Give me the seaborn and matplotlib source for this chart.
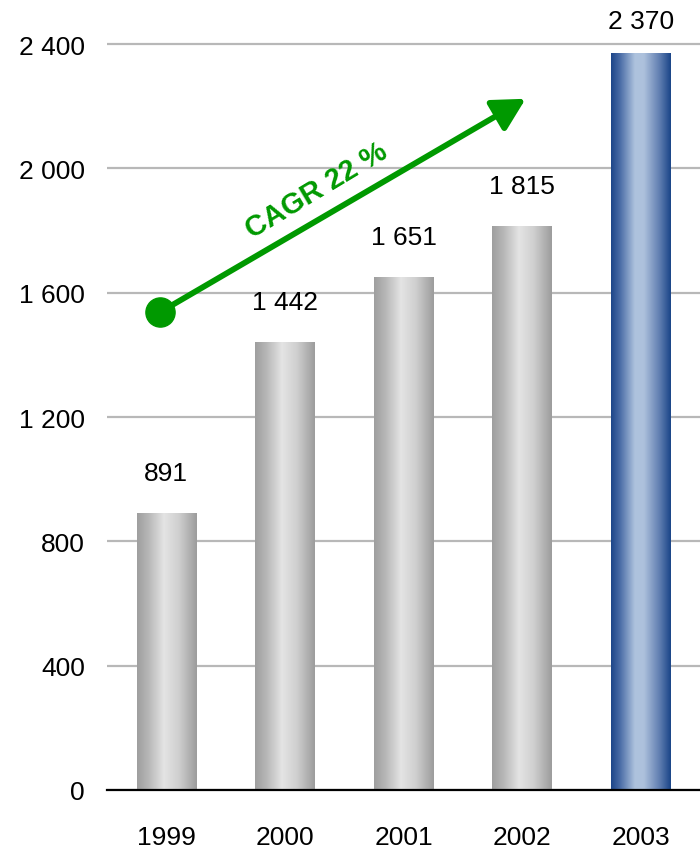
import numpy as np
import pandas as pd
import matplotlib
matplotlib.use("Agg")
import matplotlib.pyplot as plt
import seaborn as sns
from matplotlib.colors import LinearSegmentedColormap

years = ["1999", "2000", "2001", "2002", "2003"]
values = [891, 1442, 1651, 1815, 2370]
value_labels = ["891", "1 442", "1 651", "1 815", "2 370"]
yticks = [0, 400, 800, 1200, 1600, 2000, 2400]
ytick_labels = ["0", "400", "800", "1 200", "1 600", "2 000", "2 400"]
cagr_text = "CAGR 22 %"

sns.set_theme(style="white")
plt.rcParams['font.family'] = ['Liberation Sans Narrow', 'Liberation Sans', 'DejaVu Sans']

df = pd.DataFrame({"year": years, "value": values})

fig = plt.figure(figsize=(7.0, 8.53), dpi=100)
ax = fig.add_axes([107/700, 62/853, 593/700, 791/853])

sns.barplot(data=df, x="year", y="value", ax=ax, width=0.5, color="#cccccc",
            saturation=1, edgecolor="none", linewidth=0)

gray_cmap = LinearSegmentedColormap.from_list(
    "g", [(0, "#9e9e9e"), (0.2, "#b8b8b8"), (0.45, "#e4e4e4"), (0.7, "#cfcfcf"), (1, "#9c9c9c")])
blue_cmap = LinearSegmentedColormap.from_list(
    "b", [(0, "#1c4589"), (0.15, "#4a6ca6"), (0.4, "#aec3de"), (0.55, "#adc1dc"), (0.8, "#6481b3"), (1, "#1a4588")])

grad = np.linspace(0, 1, 256).reshape(1, -1)
n = len(ax.patches)
for i, p in enumerate(ax.patches):
    x0, y0 = p.get_x(), p.get_y()
    w, h = p.get_width(), p.get_height()
    cmap = blue_cmap if i == n - 1 else gray_cmap
    im = ax.imshow(grad, cmap=cmap, extent=[x0, x0 + w, y0, y0 + h],
                   aspect="auto", zorder=3, interpolation="bicubic")
    im.set_clip_path(p)
    p.set_zorder(2)
    off = 23 if i == n - 1 else 29
    ax.annotate(value_labels[i], (x0 + w / 2, y0 + h), xytext=(0, off),
                textcoords="offset points", ha="center", va="center",
                fontsize=19, color="black")

ax.set_xlim(-0.5, 4.5)
ax.set_ylim(0, 2545)
ax.set_yticks(yticks)
ax.set_yticklabels(ytick_labels)
ax.set_xlabel("")
ax.set_ylabel("")
ax.yaxis.grid(True, color="#b8b8b8", linewidth=1.6, zorder=0)
ax.set_axisbelow(True)
for s in ["top", "right", "left"]:
    ax.spines[s].set_visible(False)
ax.spines["bottom"].set_color("black")
ax.spines["bottom"].set_linewidth(1.6)
ax.spines["bottom"].set_zorder(5)
ax.tick_params(axis="both", length=0, labelsize=19, colors="black")
ax.tick_params(axis="y", pad=16)
ax.tick_params(axis="x", pad=25)

# CAGR arrow
green = "#009900"
ax.annotate("", xy=(3.03, 2224), xytext=(-0.05, 1538),
            arrowprops=dict(arrowstyle="-|>,head_length=1.95,head_width=1.05",
                            mutation_scale=10, color=green, lw=4.2,
                            shrinkA=0, shrinkB=0), zorder=6)
ax.plot([-0.05], [1538], marker="o", markersize=21, color=green, zorder=7)
ax.text(1.27, 1930, cagr_text, rotation=31, rotation_mode="anchor",
        ha="center", va="center", fontsize=21, fontweight="bold", color=green, zorder=7)

fig.savefig("out.png", dpi=100)
